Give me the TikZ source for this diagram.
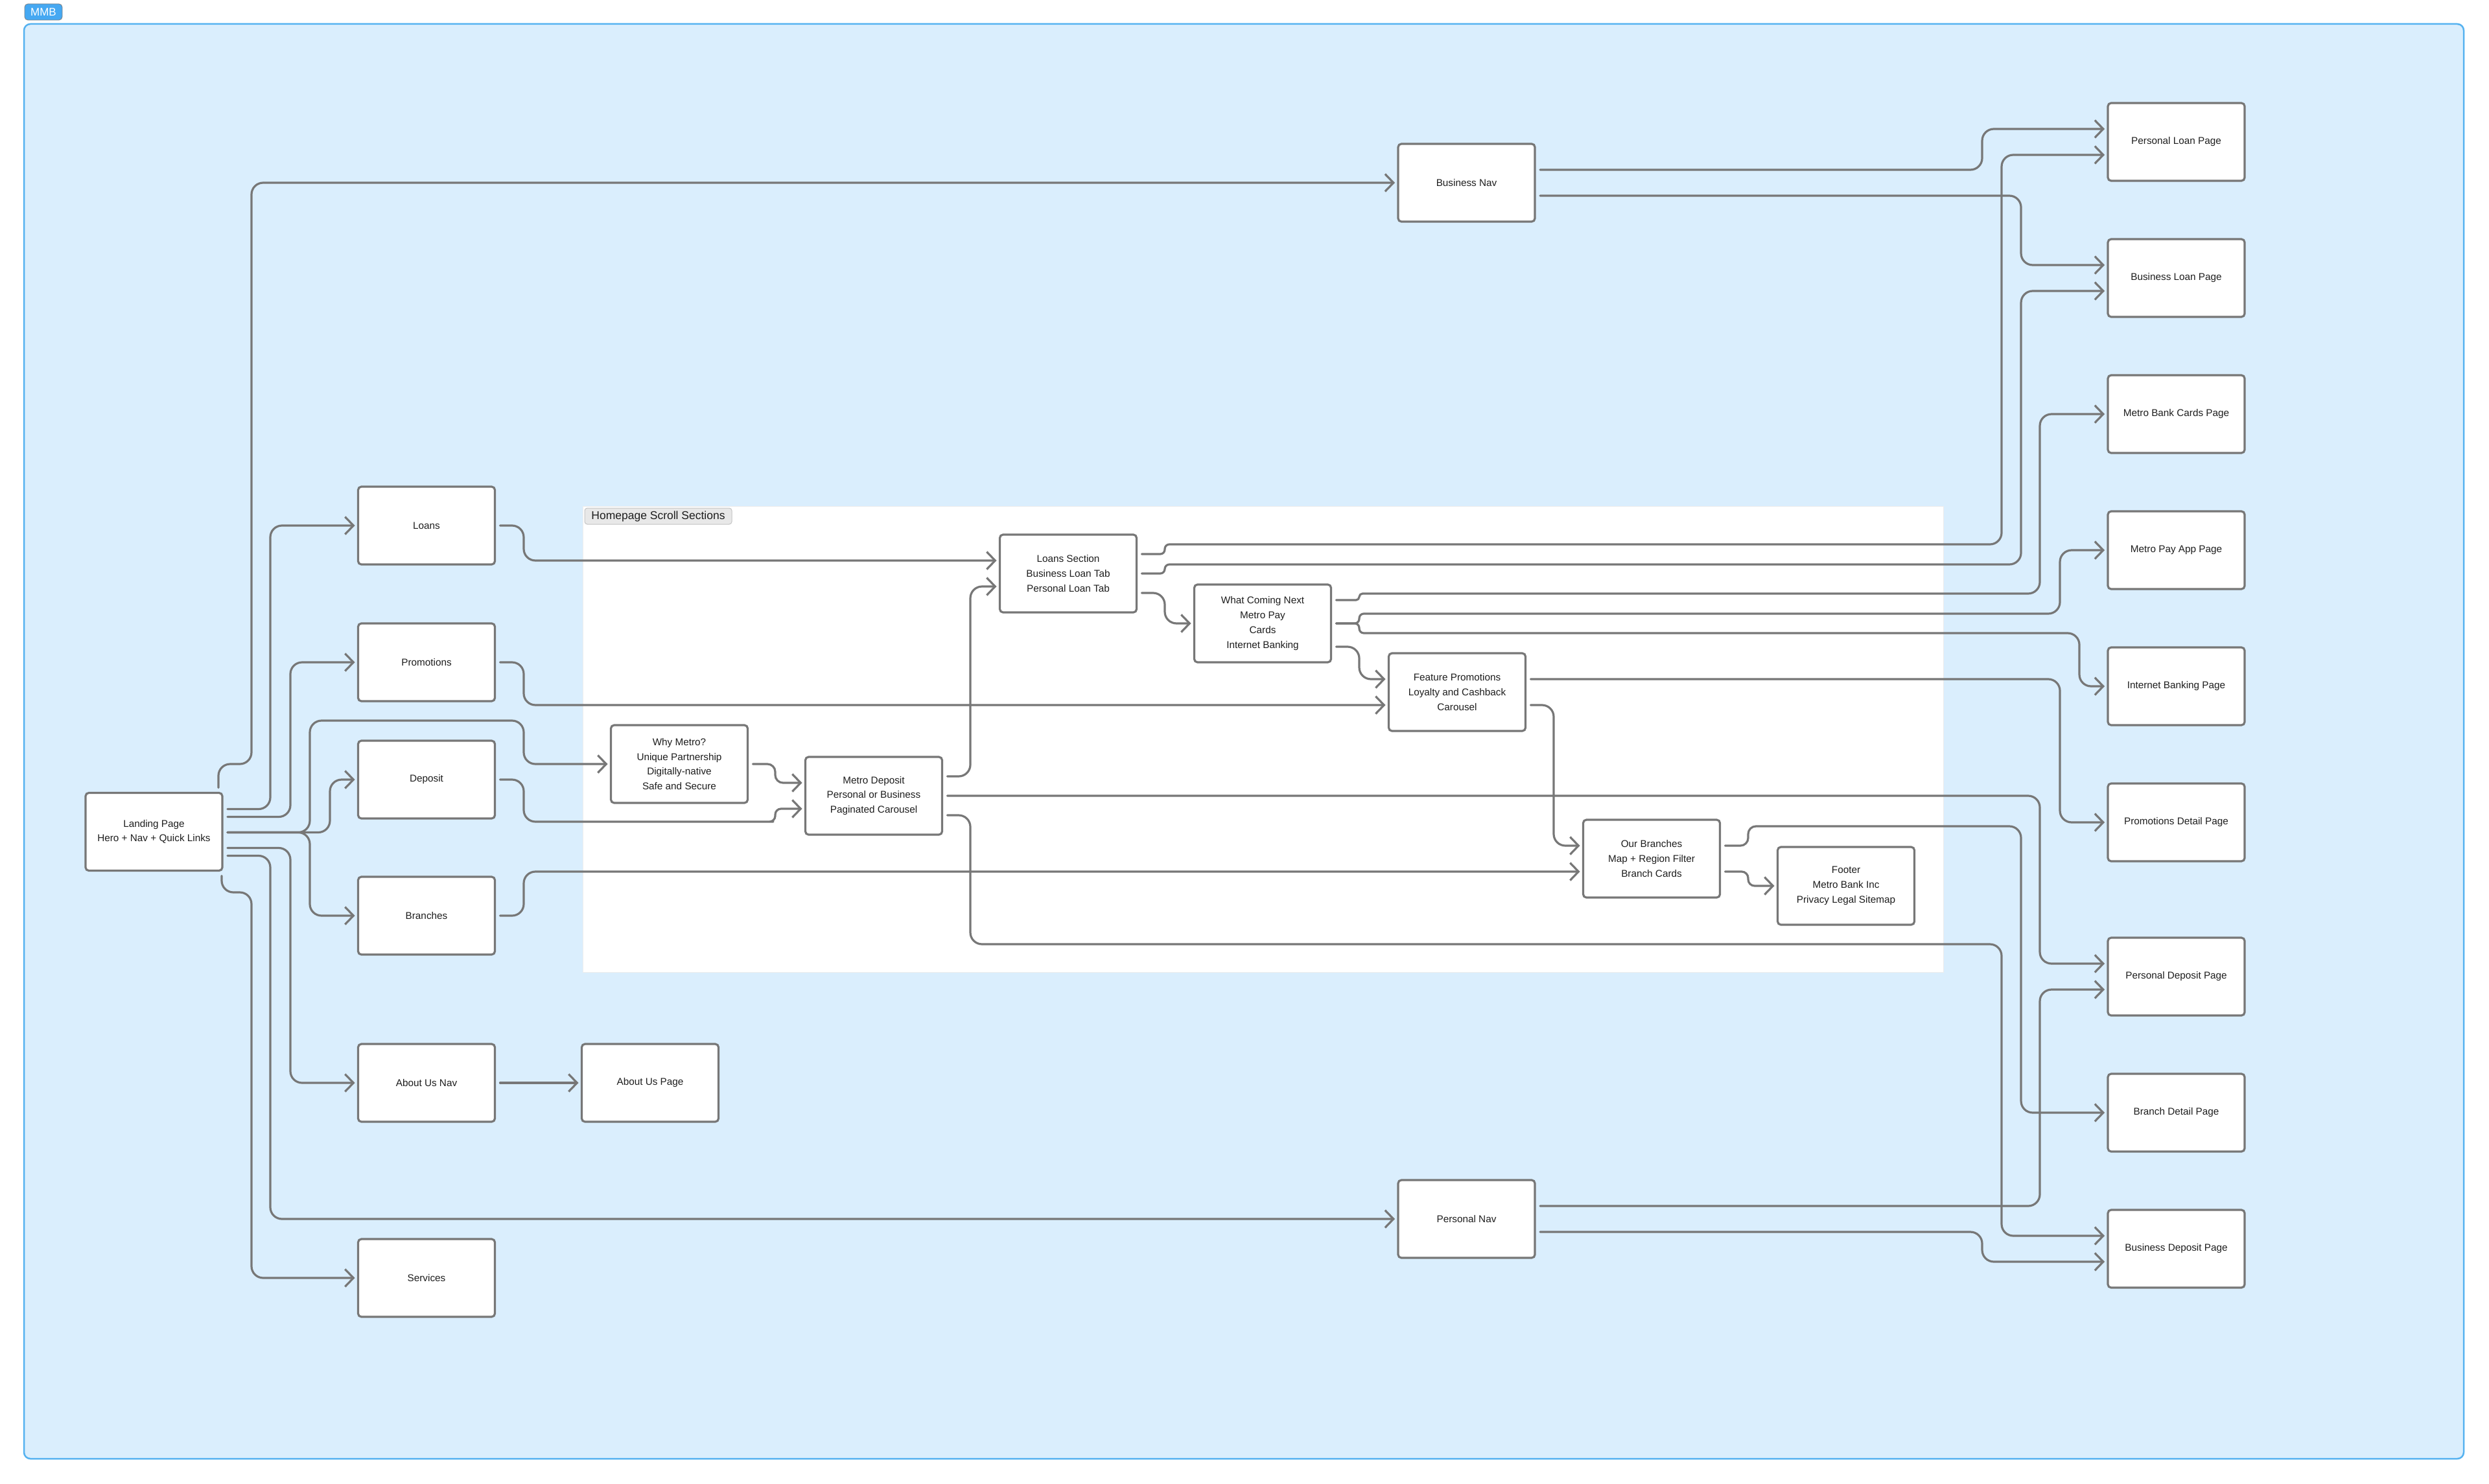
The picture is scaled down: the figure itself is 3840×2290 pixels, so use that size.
\documentclass[tikz,border=0pt]{standalone}
\usepackage{fontspec}
\setmainfont{Liberation Sans}
\usetikzlibrary{arrows.meta,calc}
\definecolor{frameblue}{HTML}{DAEEFD}
\definecolor{frameborder}{HTML}{55B2F0}
\definecolor{badgeblue}{HTML}{45A8F2}
\definecolor{edgegray}{HTML}{777777}
\definecolor{txt}{HTML}{1E1E1E}
\definecolor{lblfill}{HTML}{E8E8E8}
\definecolor{lblborder}{HTML}{C4C4C4}
\begin{document}
\begin{tikzpicture}[x=1pt,y=-1pt,
  box/.style={draw=edgegray, fill=white, line width=3.2pt, rounded corners=5pt,
    minimum width=211pt, minimum height=120pt, inner sep=0pt, outer sep=0pt,
    align=center, font=\fontsize{15.3}{22.7}\selectfont, text=txt},
  conn/.style={draw=edgegray, line width=3.2pt, rounded corners=18pt, line cap=round,
    line join=round, -{Straight Barb[length=13pt,width=27pt]}},
]
\useasboundingbox (0,0) rectangle (3840,2290);
% outer frame
\draw[fill=frameblue, draw=frameborder, line width=2.5pt, rounded corners=10pt] (37,37) rectangle (3801,2251);
\node[fill=badgeblue, draw=gray, line width=0.8pt, rounded corners=5pt, minimum width=58pt, minimum height=25pt,
  inner sep=0pt, text=white, font=\fontsize{17}{17}\selectfont] (mmb) at (67,18.5) {MMB};
% homepage scroll panel
\draw[fill=white, draw=black!7, line width=1pt] (899,781) rectangle (2998,1500);
\node[fill=lblfill, draw=lblborder, line width=1pt, rounded corners=4pt, minimum width=227pt, minimum height=25pt,
  inner sep=0pt, text=txt, font=\fontsize{17.5}{17.5}\selectfont] (hsslbl) at (1015.5,796.5) {Homepage Scroll Sections};

% nodes
\node[box] (land) at (237.5,1283.5) {Landing Page\\Hero + Nav + Quick Links};
\node[box] (loans) at (658,811) {Loans};
\node[box] (promo) at (658,1022) {Promotions};
\node[box] (deposit) at (658,1203) {Deposit};
\node[box] (branches) at (658,1413) {Branches};
\node[box] (aboutnav) at (658,1671) {About Us Nav};
\node[box] (aboutpg) at (1003,1671) {About Us Page};
\node[box] (services) at (658,1972) {Services};
\node[box] (why) at (1048,1179) {Why Metro?\\Unique Partnership\\Digitally-native\\Safe and Secure};
\node[box] (mdep) at (1348,1228) {Metro Deposit\\Personal or Business\\Paginated Carousel};
\node[box] (lsec) at (1648,885) {Loans Section\\Business Loan Tab\\Personal Loan Tab};
\node[box] (wcn) at (1948,962) {What Coming Next\\Metro Pay\\Cards\\Internet Banking};
\node[box] (fpro) at (2248,1068) {Feature Promotions\\Loyalty and Cashback\\Carousel};
\node[box] (obr) at (2548,1325) {Our Branches\\Map + Region Filter\\Branch Cards};
\node[box] (foot) at (2848,1367) {Footer\\Metro Bank Inc\\Privacy Legal Sitemap};
\node[box] (bnav) at (2262.5,282) {Business Nav};
\node[box] (pnav) at (2262.5,1881) {Personal Nav};
\node[box] (plp) at (3357.5,219) {Personal Loan Page};
\node[box] (blp) at (3357.5,429) {Business Loan Page};
\node[box] (mbc) at (3357.5,639) {Metro Bank Cards Page};
\node[box] (mpa) at (3357.5,849) {Metro Pay App Page};
\node[box] (ibp) at (3357.5,1059) {Internet Banking Page};
\node[box] (pdp) at (3357.5,1269) {Promotions Detail Page};
\node[box] (pdep) at (3357.5,1507) {Personal Deposit Page};
\node[box] (bdp) at (3357.5,1717) {Branch Detail Page};
\node[box] (bdep) at (3357.5,1927) {Business Deposit Page};

% connectors from landing page
\draw[conn] ($(land.north east)+(-6,-8)$) |- (388,1179) -- (388,282) -- ($(bnav.west)+(-5,0)$);
\draw[conn] ($(land.east)+(8,-35)$) -| (417,811) -- ($(loans.west)+(-5,0)$);
\draw[conn] ($(land.east)+(8,-23)$) -| (448,1022) -- ($(promo.west)+(-5,0)$);
\draw[conn] ($(land.east)+(8,1)$) -| (478,1112) -| (808,1179) -- ($(why.west)+(-5,0)$);
\draw[conn] ($(land.east)+(8,1)$) -| (509,1203) -- ($(deposit.west)+(-5,0)$);
\draw[conn] ($(land.east)+(8,1)$) -| (478,1413) -- ($(branches.west)+(-5,0)$);
\draw[conn] ($(land.east)+(8,25)$) -| (448,1671) -- ($(aboutnav.west)+(-5,0)$);
\draw[conn] ($(land.east)+(8,37)$) -| (417,1881) -- ($(pnav.west)+(-5,0)$);
\draw[conn] ($(land.south east)+(-1,8)$) |- (388,1377) -- (388,1972) -- ($(services.west)+(-5,0)$);

% second column
\draw[conn] ($(loans.east)+(8,0)$) -| (808,865) -- ($(lsec.west)+(-5,-20)$);
\draw[conn] ($(promo.east)+(8,0)$) -| (808,1088) -- ($(fpro.west)+(-5,20)$);
\draw[conn] ($(deposit.east)+(8,0)$) -| (808,1268) -- (1175,1268) [rounded corners=9pt] -- (1196,1268) -- (1196,1248) -- ($(mdep.west)+(-5,20)$);
\draw[conn] ($(branches.east)+(8,0)$) -| (808,1345) -- ($(obr.west)+(-5,20)$);
\draw[conn] ($(aboutnav.east)+(8,0)$) -- ($(aboutpg.west)+(-5,0)$);

% scroll sections
\draw[conn, rounded corners=12pt] ($(why.east)+(8,0)$) -| (1196,1208) -- ($(mdep.west)+(-5,-20)$);
\draw[conn] ($(mdep.east)+(8,-30)$) -| (1497,905) -- ($(lsec.west)+(-5,20)$);
\draw[conn] ($(mdep.east)+(8,0)$) -| (3147,1487) -- ($(pdep.west)+(-5,-20)$);
\draw[conn] ($(mdep.east)+(8,30)$) -| (1497,1457) -| (3088,1907) -- ($(bdep.west)+(-5,-20)$);
\draw[conn, rounded corners=7pt] ($(lsec.east)+(8,-30)$) -- (1797,855) -- (1797,840) -- (1830,840) [rounded corners=18pt] -| (3088,239) -- ($(plp.west)+(-5,20)$);
\draw[conn, rounded corners=7pt] ($(lsec.east)+(8,0)$) -- (1797,885) -- (1797,871) -- (1830,871) [rounded corners=18pt] -| (3118,449) -- ($(blp.west)+(-5,20)$);
\draw[conn] ($(lsec.east)+(8,30)$) -| (1797,962) -- ($(wcn.west)+(-5,0)$);
\draw[conn, rounded corners=5pt] ($(wcn.east)+(8,-36)$) -- (2097,926) -- (2097,916) -- (2130,916) [rounded corners=18pt] -| (3147,639) -- ($(mbc.west)+(-5,0)$);
\draw[conn, rounded corners=7pt] ($(wcn.east)+(8,0)$) -- (2097,962) -- (2097,947) -- (2130,947) [rounded corners=18pt] -| (3178,849) -- ($(mpa.west)+(-5,0)$);
\draw[conn, rounded corners=7pt] ($(wcn.east)+(8,0)$) -- (2097,962) -- (2097,977) -- (2130,977) [rounded corners=18pt] -| (3208,1059) -- ($(ibp.west)+(-5,0)$);
\draw[conn] ($(wcn.east)+(8,36)$) -| (2097,1048) -- ($(fpro.west)+(-5,-20)$);
\draw[conn] ($(fpro.east)+(8,-20)$) -| (3178,1269) -- ($(pdp.west)+(-5,0)$);
\draw[conn] ($(fpro.east)+(8,20)$) -| (2397,1305) -- ($(obr.west)+(-5,-20)$);
\draw[conn, rounded corners=12pt] ($(obr.east)+(8,-20)$) -- (2697,1305) -- (2697,1275) -- (2740,1275) [rounded corners=18pt] -| (3118,1717) -- ($(bdp.west)+(-5,0)$);
\draw[conn, rounded corners=10pt] ($(obr.east)+(8,20)$) -| (2697,1367) -- ($(foot.west)+(-5,0)$);

% navs
\draw[conn] ($(bnav.east)+(8,-20)$) -| (3058,199) -- ($(plp.west)+(-5,-20)$);
\draw[conn] ($(bnav.east)+(8,20)$) -| (3118,409) -- ($(blp.west)+(-5,-20)$);
\draw[conn] ($(pnav.east)+(8,-20)$) -| (3147,1527) -- ($(pdep.west)+(-5,20)$);
\draw[conn] ($(pnav.east)+(8,20)$) -| (3058,1947) -- ($(bdep.west)+(-5,20)$);
\end{tikzpicture}
\end{document}
